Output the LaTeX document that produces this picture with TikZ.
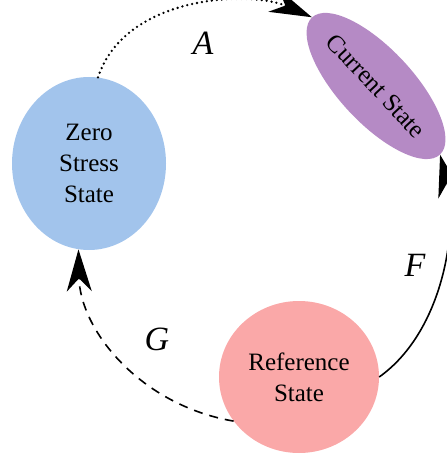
\documentclass[tikz,border=0pt]{standalone}
\usepackage{fontspec}
\setmainfont{Liberation Serif}
\usetikzlibrary{shapes.geometric,arrows.meta}
\definecolor{zerofill}{RGB}{162,196,236}
\definecolor{curfill}{RGB}{181,138,197}
\definecolor{reffill}{RGB}{250,168,168}
\tikzset{
  state/.style={ellipse,align=center,font=\fontsize{25}{31}\selectfont},
  map/.style={-{Stealth[length=42pt,width=25pt,inset=13pt]},line width=1.6pt},
  maplabel/.style={font=\itshape\fontsize{34}{34}\selectfont}
}

\begin{document}
\begin{tikzpicture}[x=1pt,y=1pt]
\tikzstyle{every node}+=[inner sep=0pt]
\useasboundingbox (0,0) rectangle (446,-454);
% states
\node [state,fill=zerofill,minimum width=154,minimum height=173] (zero) at (89,-163.5) {Zero\\Stress\\State};
\node [state,fill=curfill,minimum width=176,minimum height=74,rotate=-47] (cur) at (376,-86) {Current State};
\node [state,fill=reffill,minimum width=160,minimum height=152] (ref) at (299,-377) {Reference\\State};
% maps between states
\draw [map,line width=2.6pt,line cap=round,dash pattern=on 0pt off 5pt] (zero.84) .. controls (125,5) and (250,10) .. (cur.west);
\node [maplabel] (A) at (203,-43) {A};
\draw [map] (ref.east) .. controls (445,-330) and (458,-225) .. (cur.east);
\node [maplabel] (F) at (415,-265) {F};
\draw [map,dash pattern=on 9pt off 7pt] (ref.214) .. controls (140,-405) and (80,-330) .. (zero.263);
\node [maplabel] (G) at (157,-339) {G};
\end{tikzpicture}
\end{document}
